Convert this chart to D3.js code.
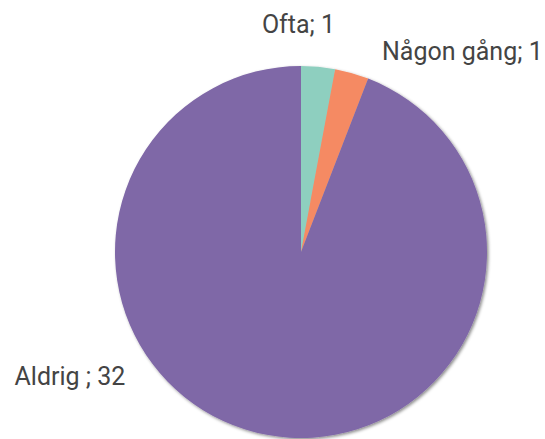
<!DOCTYPE html>
<html>
<head>
<meta charset="utf-8">
<script src="https://cdn.jsdelivr.net/npm/d3@7"></script>
<style>
  body { margin: 0; background: #fff; }
  text { font-family: Roboto, sans-serif; fill: #444; }
</style>
</head>
<body>
<div class="chart"></div>
<script>
// answer categories and counts
var categories = ["Ofta", "Någon gång", "Aldrig"];
var counts = [1, 1, 32];
var colors = ["#8ecfbf", "#f58a63", "#7f67a7"];
var labels = ["Ofta; 1", "Någon gång; 1", "Aldrig ; 32"];

var width = 545, height = 439;
var cx = 301, cy = 252, radius = 186;

var svg = d3.select(".chart").append("svg")
    .attr("width", width)
    .attr("height", height);

// soft shadow like the original
var defs = svg.append("defs");
var f = defs.append("filter").attr("id", "shadow")
    .attr("x", "-10%").attr("y", "-10%").attr("width", "120%").attr("height", "120%");
f.append("feDropShadow")
    .attr("dx", 1.5).attr("dy", 1.5).attr("stdDeviation", 1.5)
    .attr("flood-color", "#000").attr("flood-opacity", 0.45);

var data = categories.map(function(c, i) {
    return {name: c, value: counts[i], color: colors[i], label: labels[i]};
});

var pie = d3.pie()
    .sort(null)
    .value(function(d) { return d.value; });

var arc = d3.arc()
    .innerRadius(0)
    .outerRadius(radius);

var g = svg.append("g")
    .attr("transform", "translate(" + cx + "," + cy + ")");

g.append("g").attr("filter", "url(#shadow)")
  .selectAll("path")
    .data(pie(data))
    .enter()
    .append("path")
    .attr("d", arc)
    .attr("fill", function(d) { return d.data.color; });

// labels sit outside the pie, nudged from the slice centroid
var labelArc = d3.arc().innerRadius(radius * 1.1).outerRadius(radius * 1.1);
var offsets = [[-58, -15], [25, 5], [-138, -68]];
var anchors = ["start", "start", "end"];

g.selectAll(".lbl")
    .data(pie(data))
    .enter()
    .append("text")
    .attr("class", "lbl")
    .attr("x", function(d, i) { return labelArc.centroid(d)[0] + offsets[i][0]; })
    .attr("y", function(d, i) { return labelArc.centroid(d)[1] + offsets[i][1]; })
    .attr("text-anchor", function(d, i) { return anchors[i]; })
    .style("font-size", "25px")
    .text(function(d) { return d.data.label; });
</script>
</body>
</html>
